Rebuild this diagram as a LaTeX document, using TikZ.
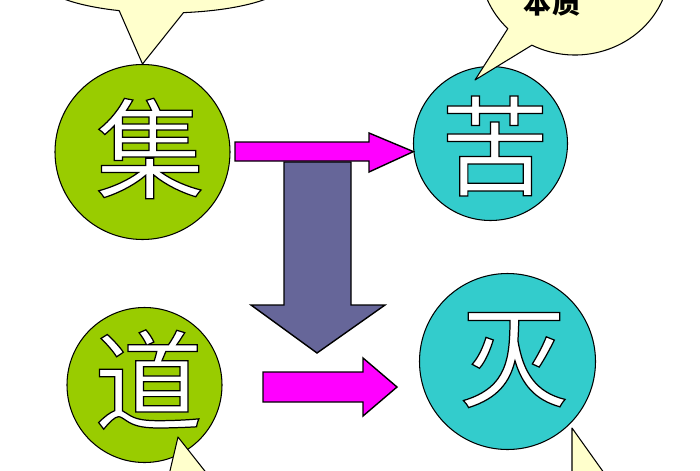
\documentclass[tikz,border=0pt]{standalone}
\usepackage{fontspec}
\usepackage{tikz}
\usetikzlibrary{calc}
\newfontfamily\cjk{Noto Sans CJK SC}
\definecolor{grass}{HTML}{99CC00}
\definecolor{tealcirc}{HTML}{33CCCC}
\definecolor{pinkarrow}{HTML}{FF00FF}
\definecolor{slatearrow}{HTML}{666699}
\definecolor{notepaper}{HTML}{FFFFCC}
\newcommand{\hollowchar}[1]{\special{pdf:code 2 Tr 0 G 0.7 w}#1\special{pdf:code 0 Tr}}

\begin{document}
\begin{tikzpicture}[
	ring/.style={circle,draw=black,line width=0.6pt,inner sep=0pt},
	bigchar/.style={text=white,inner sep=0pt,font=\cjk\fontsize{62}{62}\selectfont},
	note/.style={fill=notepaper,draw=black,line width=0.6pt,line join=round},
	bigarrow/.style={draw=black,line width=0.8pt,line join=miter}]
	\useasboundingbox (0,0) rectangle (14,9.4);
	\clip (0,0) rectangle (14,9.4);
	
	%circles
	\node[ring,fill=grass,minimum size=3.5cm]     (ji)  at (2.85,6.36)  {};
	\node[ring,fill=tealcirc,minimum size=3.08cm] (ku)  at (9.81,6.53)  {};
	\node[ring,fill=grass,minimum size=3.1cm]     (dao) at (2.89,1.70)  {};
	\node[ring,fill=tealcirc,minimum size=3.52cm] (mie) at (10.15,2.17) {};
	%
	\node[bigchar] (jichar)  at (3.00,6.43)  {\hollowchar{集}};
	\node[bigchar] (kuchar)  at (9.90,6.48)  {\hollowchar{苦}};
	\node[bigchar] (daochar) at (2.97,1.81)  {\hollowchar{道}};
	\node[bigchar] (miechar) at (10.28,2.20) {\hollowchar{灭}};
	
	%block arrows
	\draw[bigarrow,fill=slatearrow] (5.68,6.16) -- (7.02,6.16) -- (7.02,3.30) -- (7.70,3.30)
		-- (6.34,2.34) -- (5.02,3.30) -- (5.68,3.30) -- cycle;				%ji,ku--dao,mie
	\draw[bigarrow,fill=pinkarrow] (4.70,6.56) -- (7.38,6.56) -- (7.38,6.74) -- (ku.186)
		-- (7.38,5.96) -- (7.38,6.18) -- (4.70,6.18) -- cycle;				%ji--ku
	\draw[bigarrow,fill=pinkarrow] (5.26,1.96) -- (7.26,1.96) -- (7.26,2.24) -- (7.94,1.66)
		-- (7.26,1.08) -- (7.26,1.36) -- (5.26,1.36) -- cycle;				%dao--mie
	
	%callouts
	\coordinate (jinote) at (3.30,9.82);
	\coordinate (kunote) at (11.50,10.10);
	\draw[note] ($(jinote)+(-81.5:2.5 and 0.68)$) arc[start angle=-81.5,end angle=248.5,x radius=2.5,y radius=0.68]
		-- (ji.north) -- cycle;
	\draw[note] ($(kunote)+(-117:1.9 and 1.8)$) arc[start angle=-117,end angle=225,x radius=1.9,y radius=1.8]
		-- (9.50,7.80) -- cycle;
	\node[font=\cjk\bfseries\fontsize{16}{16}\selectfont] (benzhi) at (11.04,9.34) {本质};
	%
	\draw[note] (3.38,-0.1) -- (3.56,0.66) -- (4.16,-0.1);					%dao note
	\draw[note] (11.44,-0.1) -- (11.44,0.84) -- (12.11,-0.1);				%mie note
\end{tikzpicture}
\end{document}
